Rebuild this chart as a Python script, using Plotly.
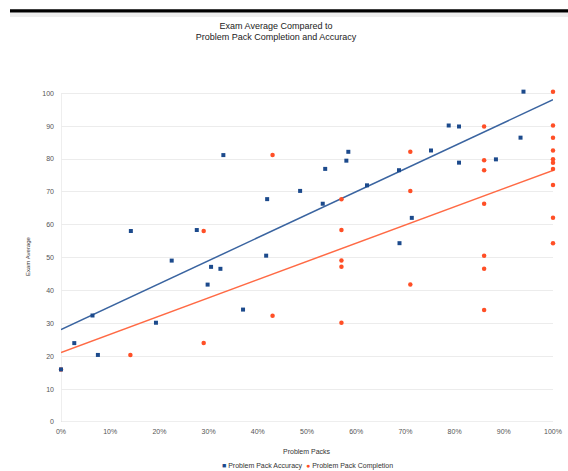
import numpy as np
import plotly.graph_objects as go

# Problem pack accuracy (fraction) vs exam average, one point per student
accuracy = [0.000, 0.027, 0.064, 0.075, 0.193, 0.225, 0.142, 0.276, 0.330, 0.419,
            0.486, 0.532, 0.537, 0.580, 0.584, 0.622, 0.417, 0.305, 0.324, 0.298,
            0.370, 0.687, 0.752, 0.788, 0.809, 0.809, 0.884, 0.934, 0.940, 0.713,
            0.688]
accuracy_exam = [16.0, 24.0, 32.4, 20.4, 30.2, 49.1, 58.1, 58.4, 81.2, 67.8,
                 70.3, 66.4, 77.0, 79.5, 82.2, 72.0, 50.6, 47.2, 46.6, 41.8,
                 34.2, 76.6, 82.6, 90.2, 89.9, 78.9, 79.9, 86.5, 100.5, 62.1,
                 54.4]

# Problem pack completion (fraction) vs exam average
completion = [0.000, 0.141, 0.290, 0.430, 0.570, 0.570, 0.570, 0.570, 0.570, 0.290,
              0.430, 0.710, 0.710, 0.860, 0.860, 0.860, 0.860, 0.860, 0.860, 0.860,
              0.710, 1.000, 1.000, 1.000, 1.000, 1.000, 1.000, 1.000, 1.000, 1.000,
              1.000]
completion_exam = [16.0, 20.4, 58.1, 81.2, 67.8, 58.4, 49.1, 47.2, 30.2, 24.0,
                   32.3, 82.2, 70.3, 89.9, 79.6, 76.6, 66.4, 50.6, 46.6, 34.1,
                   41.8, 100.5, 90.2, 86.5, 82.6, 79.9, 78.9, 77.0, 72.1, 62.1,
                   54.4]

x_ticks = [0, 0.1, 0.2, 0.3, 0.4, 0.5, 0.6, 0.7, 0.8, 0.9, 1.0]
x_tick_labels = ["0%", "10%", "20%", "30%", "40%", "50%", "60%", "70%", "80%", "90%", "100%"]
y_ticks = [0, 10, 20, 30, 40, 50, 60, 70, 80, 90, 100]

BLUE = "#1c4a8c"
BLUE_LINE = "#3a64a0"
RED = "#ff4f26"
RED_LINE = "#ff6a45"

W, H = 568, 471
M_L, M_R, M_T, M_B = 61, 15, 90, 49
PLOT_W = W - M_L - M_R
PLOT_H = H - M_T - M_B


def paper_y(px):
    """Convert a pixel row (from the top of the page) to paper y."""
    return (H - M_B - px) / PLOT_H


def paper_x(px):
    """Convert a pixel column to paper x."""
    return (px - M_L) / PLOT_W


fig = go.Figure()

# least-squares trend lines across the full x span
line_x = np.array([0.0, 1.0])
for xs, ys, col in [(accuracy, accuracy_exam, BLUE_LINE), (completion, completion_exam, RED_LINE)]:
    slope, intercept = np.polyfit(xs, ys, 1)
    fig.add_trace(go.Scatter(x=line_x, y=intercept + slope * line_x, mode="lines",
                             line=dict(color=col, width=1.5), showlegend=False,
                             hoverinfo="skip"))

fig.add_trace(go.Scatter(x=completion, y=completion_exam, mode="markers",
                         name="Problem Pack Completion",
                         marker=dict(symbol="circle", size=4.5, color=RED),
                         cliponaxis=False, showlegend=False))
fig.add_trace(go.Scatter(x=accuracy, y=accuracy_exam, mode="markers",
                         name="Problem Pack Accuracy",
                         marker=dict(symbol="square", size=4, color=BLUE),
                         cliponaxis=False, showlegend=False))

font_family = "Liberation Sans, Arial, sans-serif"

legend_text = (f"<span style='color:{BLUE}'>■</span> Problem Pack Accuracy  "
               f"<span style='color:{RED}'>●</span> Problem Pack Completion")

fig.update_layout(
    width=W, height=H,
    margin=dict(l=M_L, r=M_R, t=M_T, b=M_B),
    paper_bgcolor="white", plot_bgcolor="white",
    font=dict(family=font_family, size=7, color="#444444"),
    title=dict(text="Exam Average Compared to<br>Problem Pack Completion and Accuracy",
               x=0.486, xanchor="center", yref="container", y=1 - 28.5 / H, yanchor="top",
               font=dict(size=9, color="#222222")),
    showlegend=False,
    xaxis=dict(range=[0, 1], tickvals=x_ticks, ticktext=x_tick_labels,
               showgrid=False, zeroline=False, showline=False, ticks="",
               automargin=False, ticklabelstandoff=4,
               tickfont=dict(size=7, color="#555555")),
    yaxis=dict(range=[0, 101], tickvals=y_ticks,
               showgrid=True, gridcolor="#ececec", gridwidth=1,
               zeroline=False, showline=False, ticks="",
               automargin=False, ticklabelstandoff=6,
               tickfont=dict(size=7, color="#555555")),
    annotations=[
        dict(text="Problem Packs", xref="paper", yref="paper", x=0.5, y=paper_y(451),
             xanchor="center", yanchor="middle", showarrow=False,
             font=dict(size=7, color="#333333")),
        dict(text="Exam Average", xref="paper", yref="paper",
             x=paper_x(28), y=paper_y(256), textangle=-90,
             xanchor="center", yanchor="middle", showarrow=False,
             font=dict(size=6, color="#333333")),
        dict(text=legend_text, xref="paper", yref="paper", x=0.5, y=paper_y(466),
             xanchor="center", yanchor="middle", showarrow=False,
             font=dict(size=7, color="#333333")),
    ],
    shapes=[
        # axis line along 0%
        dict(type="line", xref="x", yref="y", x0=0, x1=0, y0=0, y1=100,
             line=dict(color="#dddddd", width=1), layer="below"),
        # axis line along the bottom
        dict(type="line", xref="x", yref="y", x0=0, x1=1, y0=0, y1=0,
             line=dict(color="#dddddd", width=1), layer="below"),
        # heavy rule across the top with a soft shadow
        dict(type="rect", xref="paper", yref="paper", x0=paper_x(10), x1=paper_x(W + 5),
             y0=paper_y(12.5), y1=paper_y(17), fillcolor="#d8d8d8",
             line=dict(width=0), opacity=0.45),
        dict(type="rect", xref="paper", yref="paper", x0=paper_x(10), x1=paper_x(W + 5),
             y0=paper_y(9.3), y1=paper_y(12.6), fillcolor="#000000",
             line=dict(width=0)),
    ],
)

fig.write_html("out.html")
